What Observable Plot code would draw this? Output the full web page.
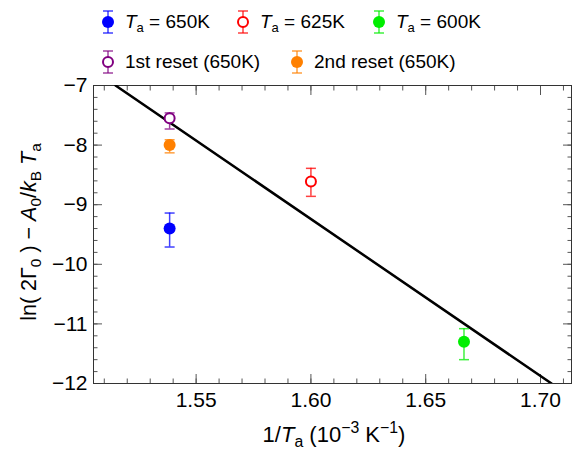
<!DOCTYPE html>
<html><head><meta charset="utf-8">
<script src="https://cdn.jsdelivr.net/npm/d3@7"></script>
<script src="https://cdn.jsdelivr.net/npm/@observablehq/plot@0.6"></script>
<style>
body{margin:0;background:#fff;font-family:"Liberation Sans",Arial,sans-serif;}
#wrap{width:574px;height:451px;position:relative;overflow:hidden;background:#fff}
#legend{position:relative;width:574px;height:80px}
.item{position:absolute;display:flex;align-items:center;font-size:19px;color:#000;white-space:nowrap;height:26px}
.item svg{margin-right:9px;overflow:visible}
.item sub{font-size:13px;vertical-align:-4px;line-height:0}
</style></head><body><div id="wrap"><div id="legend"></div><div id="chart"></div></div>
<script>
// ---- data ----
const seriesNames = ["Ta = 650K", "Ta = 625K", "Ta = 600K", "1st reset (650K)", "2nd reset (650K)"];
const invT  = [1.53846, 1.60000, 1.66667, 1.53846, 1.53846];
const yVal  = [-9.40, -8.61, -11.30, -7.55, -8.00];
const yHi   = [-9.14, -8.39, -11.08, -7.46, -7.91];
const yLo   = [-9.71, -8.86, -11.60, -7.73, -8.13];
const colors = ["#0000ff", "#ff0000", "#00ee00", "#800080", "#ff8000"];
const filled = [true, false, true, false, true];
const fitX = [1.5149, 1.7048];
const fitY = [-7, -12];
const xMajor = [1.55, 1.60, 1.65, 1.70];
const yMajor = [-12, -11, -10, -9, -8, -7];
const legendHtml = [
  "<i>T</i><sub>a</sub> = 650K", "<i>T</i><sub>a</sub> = 625K", "<i>T</i><sub>a</sub> = 600K",
  "1st reset (650K)", "2nd reset (650K)"
];

// ---- legend ----
const legendPos = [[100, 9], [235, 9], [371, 9], [100, 49], [289, 49]];
const legend = document.getElementById("legend");
seriesNames.forEach((n, i) => {
  const c = colors[i];
  const marker = filled[i]
    ? `<circle cx="8" cy="13" r="6" fill="${c}"/>`
    : `<circle cx="8" cy="13" r="5" fill="#fff" stroke="${c}" stroke-width="2"/>`;
  const el = document.createElement("div");
  el.className = "item";
  el.style.left = legendPos[i][0] + "px";
  el.style.top = legendPos[i][1] + "px";
  el.innerHTML = `<svg width="16" height="26"><g stroke="${c}" stroke-opacity="0.75" stroke-width="1.5"><line x1="8" x2="8" y1="2" y2="24"/><line x1="3" x2="13" y1="2" y2="2"/><line x1="3" x2="13" y1="24" y2="24"/></g>${marker}</svg><span>${legendHtml[i]}</span>`;
  legend.appendChild(el);
});

// ---- chart ----
const pts = seriesNames.map((n, i) => ({name: n, x: invT[i], y: yVal[i], hi: yHi[i], lo: yLo[i], color: colors[i], filled: filled[i]}));
const fit = fitX.map((x, i) => ({x, y: fitY[i]}));
const xMinor = d3.range(151, 172).map(d => d / 100);
const yMinor = d3.range(-60, -34).map(d => d / 5);
const capSymbol = {draw(ctx, size) { const r = Math.sqrt(size / Math.PI); ctx.moveTo(-r, 0); ctx.lineTo(r, 0); }};
const tickStroke = "#555";
const tickMarks = [];
for (const anchor of ["bottom", "top"]) {
  tickMarks.push(Plot.axisX(xMajor, {anchor, tickSize: -9, tickFormat: () => "", label: null, stroke: tickStroke}));
  tickMarks.push(Plot.axisX(xMinor, {anchor, tickSize: -4.5, tickFormat: () => "", label: null, stroke: tickStroke}));
}
for (const anchor of ["left", "right"]) {
  tickMarks.push(Plot.axisY(yMajor, {anchor, tickSize: -9, tickFormat: () => "", label: null, stroke: tickStroke}));
  tickMarks.push(Plot.axisY(yMinor, {anchor, tickSize: -4.5, tickFormat: () => "", label: null, stroke: tickStroke}));
}

const plot = Plot.plot({
  width: 574, height: 371,
  marginTop: 5, marginLeft: 93, marginRight: 3, marginBottom: 68,
  style: {fontFamily: '"Liberation Sans", Arial, sans-serif', fontSize: "21px", color: "#000", background: "#fff", overflow: "visible"},
  x: {domain: [1.5053, 1.7135]},
  y: {domain: [-12, -7]},
  marks: [
    Plot.axisX(xMajor, {anchor: "bottom", tickSize: 0, tickPadding: 9, tickFormat: d3.format(".2f"), label: null, fontSize: 21}),
    Plot.axisY(yMajor, {anchor: "left", tickSize: 0, tickPadding: 6, tickFormat: d3.format("d"), label: null, fontSize: 21}),
    ...tickMarks,
    Plot.frame({stroke: "#333", strokeWidth: 1}),
    Plot.line(fit, {x: "x", y: "y", stroke: "#000", strokeWidth: 2.5, clip: true}),
    Plot.ruleX(pts, {x: "x", y1: "lo", y2: "hi", stroke: "color", strokeWidth: 1.5, strokeOpacity: 0.75}),
    Plot.dot(pts, {x: "x", y: "lo", symbol: capSymbol, r: 5, stroke: "color", strokeWidth: 1.5, strokeOpacity: 0.75, fill: "none"}),
    Plot.dot(pts, {x: "x", y: "hi", symbol: capSymbol, r: 5, stroke: "color", strokeWidth: 1.5, strokeOpacity: 0.75, fill: "none"}),
    Plot.dot(pts.filter(d => d.filled), {x: "x", y: "y", r: 6, fill: "color", stroke: "none"}),
    Plot.dot(pts.filter(d => !d.filled), {x: "x", y: "y", r: 5, fill: "#fff", stroke: "color", strokeWidth: 2})
  ]
});
document.getElementById("chart").appendChild(plot);

// axis titles with sub/italic parts
function richText(sel, parts) {
  let shifted = false;
  parts.forEach(([t, kind]) => {
    const ts = sel.append("tspan").text(t);
    if (kind === "i") ts.attr("font-style", "italic");
    if (kind === "sub") { ts.attr("font-size", "0.72em").attr("dy", "0.3em"); shifted = true; }
    else if (shifted) { ts.attr("dy", "-0.216em"); shifted = false; }
  });
}
const svg = d3.select(plot);
const yl = svg.append("text").attr("transform", "translate(36,152) rotate(-90)")
  .attr("text-anchor", "middle").attr("font-size", 21.5).attr("fill", "#000");
richText(yl, [["ln( 2Γ"], ["0", "sub"], [" ) − "], ["A", "i"], ["0", "sub"], ["/"], ["k", "i"], ["B", "sub"], [" "], ["T", "i"], ["a", "sub"]]);

const xl = svg.append("text").attr("x", 334).attr("y", 362)
  .attr("text-anchor", "middle").attr("font-size", 22).attr("fill", "#000");
xl.append("tspan").text("1/");
xl.append("tspan").text("T").attr("font-style", "italic");
xl.append("tspan").text("a").attr("font-size", "0.72em").attr("dy", "0.3em");
xl.append("tspan").text(" (10").attr("dy", "-0.216em");
xl.append("tspan").text("−3").attr("font-size", "0.72em").attr("dy", "-0.55em");
xl.append("tspan").text(" K").attr("dy", "0.396em");
xl.append("tspan").text("−1").attr("font-size", "0.72em").attr("dy", "-0.55em");
xl.append("tspan").text(")").attr("dy", "0.396em");
</script></body></html>
